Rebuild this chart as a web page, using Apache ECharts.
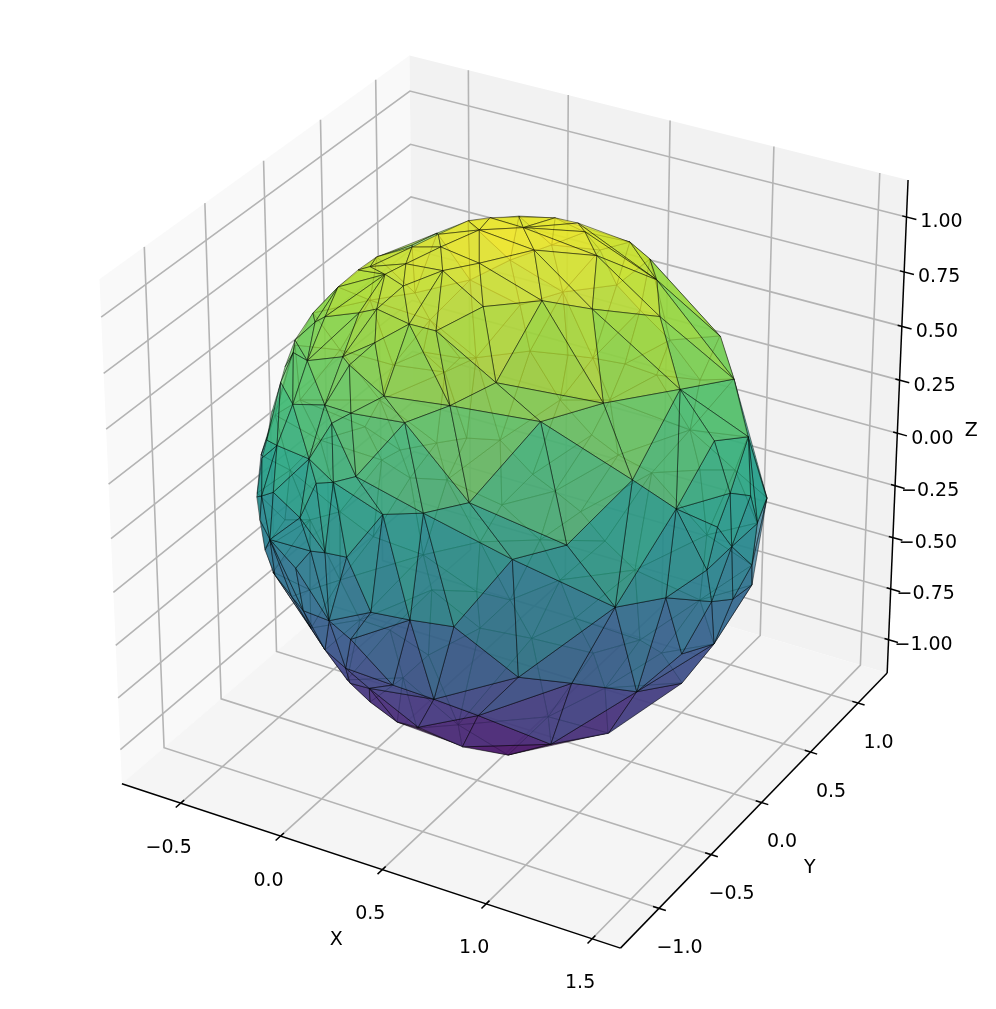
<!DOCTYPE html>
<html><head><meta charset="utf-8"><style>html,body{margin:0;padding:0;background:#fff}#c{width:996px;height:1009px}</style>
<script src="https://cdn.jsdelivr.net/npm/echarts@6/dist/echarts.min.js"></script></head><body><div id="c"></div>
<script>
// ---- axis limits and ticks ----
const xLim=[-0.799,1.632], yLim=[-1.36,1.314], zLim=[-1.166,1.166];
const xTicks=[-0.5,0,0.5,1,1.5], yTicks=[-1,-0.5,0,0.5,1], zTicks=[-1,-0.75,-0.5,-0.25,0,0.25,0.5,0.75,1];
const xTickLabels=['\u22120.5','0.0','0.5','1.0','1.5'], yTickLabels=['\u22121.0','\u22120.5','0.0','0.5','1.0'];
const zTickLabels=['\u22121.00','\u22120.75','\u22120.50','\u22120.25','0.00','0.25','0.50','0.75','1.00'];

// ---- near side of the surface: node names and x, y, z values ----
const meshNames=['T1','T2','B1','B2','B16','B3','B4','B5','B6','B7','B8','B9','B10','B11','B12','B13','B14','B15','A1','A2','A3','A4','A5','A6','A7','A8','A9','A10','A11','A12','A13','A14','A15','A16','A17','A18','A19','A20','A22','A23','A24','A25','A26','A27','A29','S2','C1','C2','C3','C4','C5','C6','C7','C8','C9','C10','C11','C12','C13','C14','C15','C16','C17','C18','C19','C20','C21','C22','C23','C24','H1','H2','H3','H4','H5','S10','S11','S12','S4','S5','S6','D1','D2','D4','D5','D6','D7','D8','D9','D10','D11','D12','D13','D14','D15','D16','E1','E2','E3','E4','E5','E6','E7','E8','E9','E10','E11','E12','E13','E14','E15','E16','S8','S9','F1','F2','F3','F4','F5','F6','F7','F9','F10','F11','F12','F14','G'];
const meshX=[0.099,0.162,0.233,0.371,0.462,0.531,0.675,0.764,0.384,0.531,0.725,0.918,0.710,0.884,1.063,1.264,1.108,1.296,0.235,0.066,0.150,-0.001,0.380,0.048,0.251,-0.024,-0.157,0.115,0.514,0.047,-0.038,0.243,0.376,0.120,-0.020,-0.231,0.033,0.703,-0.245,-0.303,-0.413,-0.370,-0.292,-0.232,-0.373,-0.177,0.259,-0.031,-0.236,0.122,0.389,0.558,0.034,-0.287,-0.053,0.218,0.106,0.010,-0.273,-0.385,-0.068,0.374,0.554,0.733,-0.307,0.092,0.212,0.006,-0.101,0.927,-0.341,-0.387,-0.397,-0.392,-0.411,-0.461,-0.422,-0.172,-0.320,-0.418,-0.067,0.914,1.089,1.425,1.406,1.261,1.398,1.487,1.501,1.466,1.513,1.493,1.519,1.108,1.490,1.515,-0.093,0.085,0.332,0.519,0.709,0.199,0.103,0.371,0.559,0.938,0.211,0.729,0.355,0.487,0.057,-0.011,0.095,0.215,1.275,1.408,1.493,1.507,1.413,1.444,1.279,1.115,0.905,1.078,1.346,1.479,0.668];
const meshY=[0.188,0.269,0.399,0.470,0.508,0.438,0.582,0.596,0.150,-0.033,0.167,0.349,-0.305,-0.187,0.087,-0.124,0.590,0.333,0.034,-0.019,-0.153,-0.130,-0.239,-0.274,-0.323,-0.327,-0.218,-0.420,-0.457,-0.529,-0.529,-0.604,-0.615,-0.679,-0.707,-0.641,-0.746,-0.702,-0.458,-0.444,-0.428,-0.519,-0.260,-0.190,-0.339,-0.123,-0.856,-0.847,-0.763,-0.896,-0.916,-0.834,-0.905,-0.817,-0.951,-1.032,-1.027,-1.006,-0.882,-0.791,-1.013,-1.087,-1.064,-0.996,-0.863,-1.085,-1.112,-1.056,-1.002,-0.984,-0.681,-0.732,-0.546,-0.677,-0.736,-0.705,-0.749,-0.921,-0.807,-0.720,-0.943,-0.709,-0.485,0.213,-0.081,-0.554,-0.419,-0.087,0.087,0.325,0.137,-0.216,-0.127,-0.846,-0.304,0.087,-0.960,-1.050,-1.125,-1.126,-1.092,-1.068,-0.947,-1.016,-0.996,-0.950,-0.936,-0.917,-0.766,-0.611,-0.831,-0.924,-0.726,-0.705,-0.728,-0.523,-0.257,-0.077,-0.370,-0.120,-0.522,-0.806,-0.587,-0.382,-0.224,0.170,-0.530];
const meshZ=[1.042,1.040,1.011,1.013,0.997,1.002,0.934,0.874,1.096,1.104,1.049,0.917,1.033,0.993,0.895,0.710,0.612,0.574,1.094,1.053,1.070,1.023,1.089,1.017,1.057,0.973,0.931,0.993,1.018,0.917,0.879,0.931,0.939,0.847,0.759,0.659,0.752,0.832,0.779,0.734,0.618,0.609,0.822,0.886,0.715,0.933,0.719,0.598,0.511,0.623,0.661,0.747,0.558,0.333,0.393,0.423,0.364,0.324,0.150,0.062,0.148,0.320,0.366,0.433,-0.087,0.065,0.091,0.035,-0.099,0.228,0.548,0.294,0.548,0.394,0.207,-0.001,-0.079,-0.289,-0.282,-0.232,-0.396,0.719,0.753,0.397,0.499,0.488,0.337,0.287,0.203,0.077,0.058,0.191,0.070,0.282,0.034,-0.113,-0.314,-0.267,-0.121,-0.101,-0.092,-0.312,-0.533,-0.499,-0.518,-0.323,-0.601,-0.581,-0.824,-0.953,-0.673,-0.491,-0.800,-0.870,-0.005,-0.017,-0.132,-0.199,-0.346,-0.407,-0.491,-0.366,-0.823,-0.817,-0.573,-0.254,-0.976];
const meshTriangles=`T1 T2 A1,T2 B1 B6,T2 B6 A1,A2 T1 A1,A2 A1 A3,A4 A2 A3,A4 A3 A6,A3 A7 A6,A3 A5 A7,A1 A5 A3,A1 B6 B7,A1 B7 A5,A5 B7 B10,A5 B10 A11,A7 A5 A11,A7 A11 A15,A11 A20 A15,A11 B10 A20,A15 A20 C6,A7 A15 A14,A14 A15 C6,A14 C6 C1,A14 C1 A16,A10 A7 A14,A6 A7 A10,A8 A6 A10,A8 A10 A12,A10 A14 A12,A12 A14 A16,A12 A16 A17,A13 A12 A17,A8 A12 A13,A16 C1 A19,A16 A19 A17,A19 C1 C4,A19 C4 C2,A17 A19 C2,A17 C2 A18,A13 A17 A18,A9 A6 A8,A4 A6 A9,A4 A9 S2,S2 A9 A27,A27 A9 A8,A26 A27 A8,A22 A26 A8,A22 A8 A13,A22 A13 A18,A23 A22 A18,A26 A22 A23,A29 A26 A23,A24 A23 A18,A24 A29 A23,A25 A24 A18,A25 A18 C3,A18 C2 C3,A25 C3 H1,A25 H1 H3,A24 A25 H3,H1 C3 C8,H1 C8 H2,H1 H2 H4,H2 C8 H5,H5 C8 C14,H5 C14 S10,C8 C13 C14,C8 C9 C13,C3 C9 C8,C3 C2 C9,C2 C7 C9,C2 C4 C7,C4 C1 C5,C4 C10 C7,C4 C5 C10,C7 C10 C11,C7 C11 C9,C9 C11 C12,C9 C12 C15,C9 C15 C13,C13 C15 C19,C13 C19 C14,C12 C20 C15,C12 C11 C20,C11 C21 C20,C11 C16 C21,C11 C10 C16,C10 C17 C16,C10 C5 C17,C5 C18 C17,C5 C6 C18,C1 C6 C5,C15 C20 C22,C15 C22 C19,C19 C22 C23,C14 C19 S11,C14 S11 S10,C19 S11 S5,C19 S5 S4,C19 S4 S12,C19 S12 E1,S12 S6 E1,S6 E16 E1,E16 E15 E7,E15 S8 E11,E7 E15 E11,S8 S9 E11,S9 E13 E11,C19 C23 E1,C23 E2 E1,C22 E2 C23,C22 C20 E2,C20 C21 E2,C21 E3 E2,E1 E16 E2,E2 E16 E7,E2 E7 E6,E2 E3 E6,E6 E7 E8,E7 E11 E8,E11 E9 E8,E11 E13 E9,E9 E13 E12,E13 E14 E12,E12 E14 F10,E14 G F10,E12 F10 F9,E10 F9 E12,E9 E10 E12,E5 E10 E9,C24 E10 E5,C17 C24 E5,E4 C17 E5,C16 C17 E4,E4 E5 E9,E8 E4 E9,E6 E4 E8,E6 E3 E4,E3 C16 E4,E3 C21 C16,C18 C24 C17,C18 D14 C24,C18 D1 D14,C6 D1 C18,A20 D1 C6,A20 D2 D1,A20 B10 D2,B10 B11 D2,B11 B13 D2,B11 B12 B13,D1 D6 D2,D1 D14 D6,D2 D6 B13,B13 D6 D7,B13 D7 D5,B13 D5 D4,B13 B15 D4,D5 D7 D8,D4 D5 D8,D4 D8 D9,D4 D9 D11,D4 D10 D11,D9 D11 D13,D8 D9 D13,D8 D12 D13,D7 D12 D8,D7 D15 D12,D12 D15 D13,D11 D16 D13,C24 D14 F1,C24 F1 E10,D14 D6 F1,D6 D7 F1,D7 F2 F1,D7 D15 F2,D15 F3 F2,D15 D13 F3,D13 F4 F3,D13 D16 F4,D16 F14 F4,F4 F14 F6,F3 F4 F6,F3 F6 F5,F2 F3 F5,F2 F5 F7,F5 F6 F7,F6 F12 F7,F7 F12 F11,F7 F11 F10,F9 F7 F10,F1 F7 F9,F1 F2 F7,F1 F9 E10,B1 B2 B6,B6 B2 B16,B6 B16 B3,B6 B3 B8,B6 B8 B7,B7 B8 B11,B7 B11 B10,B3 B9 B8,B16 B4 B9,B16 B9 B3,B4 B5 B9,B8 B9 B12,B8 B12 B11,B9 B14 B15,B5 B14 B9,B9 B15 B12,B12 B15 B13`.split(',').map(s=>s.split(' '));

// ---- far side of the surface, seen faintly through the near side ----
const backX=[-0.582,-0.646,-0.683,-0.619,-0.551,-0.487,-0.364,-0.281,-0.174,-0.014,0.233,0.371,0.453,0.674,0.764,1.074,1.071,1.148,1.366,1.284,1.322,1.398,1.247,1.174,0.971,0.732,0.668,0.485,0.266,0.217,0.096,-0.073,-0.235,-0.067,-0.431,-0.477,0.146,0.267,0.404,0.583,0.427,0.280,0.037,0.613,0.949,-0.460,-0.506,-0.570,-0.408,-0.285,-0.058,-0.348,-0.246,-0.446,-0.274,-0.096,-0.558,-0.055,0.052,-0.031,-0.052,-0.188,0.284,0.273,0.416,0.576,0.568,0.729,0.925,-0.394,-0.376,-0.290,-0.232,-0.412,-0.504,-0.343,0.191,0.156,0.431,0.411,0.257,0.143,-0.020,0.574,-0.040,-0.688,-0.658,-0.672,-0.598,-0.614,-0.446,-0.459,-0.317,-0.224,0.843,1.062,0.764,0.823,0.664,0.523,1.020,0.774,0.138,0.110,0.282,-0.539,-0.618,-0.508,-0.204,-0.023,0.429,-0.119,0.111,0.339,-0.172];
const backY=[-0.498,-0.348,-0.155,-0.076,-0.031,0.082,0.213,0.378,0.412,0.398,0.400,0.470,0.593,0.582,0.596,0.655,0.814,0.806,0.547,0.630,0.507,0.348,0.298,0.137,-0.172,-0.248,-0.530,-0.610,-0.616,-0.705,-0.727,-0.629,-0.535,-0.943,-0.635,-0.620,0.920,1.043,1.038,1.016,0.868,0.914,0.911,0.799,0.831,0.571,0.482,0.447,0.567,0.689,0.791,0.711,0.808,0.287,0.440,0.652,0.185,0.080,0.371,0.496,-0.163,0.360,-0.271,0.450,0.597,0.464,0.042,0.279,0.443,0.606,0.709,0.830,0.875,0.708,0.594,0.785,0.789,0.968,0.949,1.080,1.069,1.047,0.992,1.069,0.933,0.075,0.193,-0.055,-0.016,-0.210,-0.022,-0.270,-0.075,0.033,0.970,0.867,1.025,0.994,1.012,0.997,0.625,0.532,0.790,0.552,0.710,0.533,0.318,0.401,0.769,0.805,0.786,0.891,1.034,1.079,-0.921];
const backZ=[-0.107,-0.011,0.086,0.397,0.545,0.636,0.753,0.764,0.832,0.932,1.014,1.012,0.921,0.935,0.875,0.580,0.315,0.068,-0.046,-0.224,-0.358,-0.358,-0.661,-0.794,-0.950,-1.041,-0.976,-0.950,-0.928,-0.871,-0.801,-0.792,-0.740,-0.396,-0.378,-0.284,-0.516,-0.262,-0.320,-0.348,-0.659,-0.577,-0.460,-0.717,-0.465,-0.331,-0.354,-0.195,-0.451,-0.480,-0.584,-0.326,-0.316,-0.626,-0.735,-0.715,-0.490,-1.000,-0.971,-0.872,-0.997,-0.847,-1.074,-0.993,-0.920,-0.983,-1.098,-1.021,-0.868,0.423,0.258,0.050,0.048,0.097,0.058,-0.013,0.721,0.422,0.532,0.102,0.094,0.088,0.087,0.097,0.325,0.059,-0.175,-0.216,-0.452,-0.371,-0.699,-0.638,-0.832,-0.905,-0.243,-0.138,-0.096,0.170,0.309,0.419,-0.666,-0.891,-0.701,-0.898,-0.821,-0.094,0.213,0.442,0.467,0.591,0.758,-0.327,-0.131,-0.089,-0.289];

const viridis=['#440154','#482475','#414487','#355f8d','#2a788e','#21918c','#22a884','#44bf70','#7ad151','#bddf26','#fde725'];
const faceAlpha=0.73;
function colorAt(t){t=Math.max(0,Math.min(1,t))*(viridis.length-1);const i=Math.min(Math.floor(t),viridis.length-2),f=t-i;
 const h=s=>[1,3,5].map(k=>parseInt(s.substr(k,2),16));const a=h(viridis[i]),b=h(viridis[i+1]);
 return `rgba(${a.map((v,k)=>Math.round(v+(b[k]-v)*f)).join(',')},${faceAlpha})`;}

// 3D camera (azimuth -60, elevation 30, perspective, cubic box); the plane it projects on is the hidden cartesian grid
const AZ=-60*Math.PI/180,EL=30*Math.PI/180,DIST=10,BOX=1.1003;
const W=[Math.cos(EL)*Math.cos(AZ),Math.cos(EL)*Math.sin(AZ),Math.sin(EL)];
const U=[-W[1],W[0],0].map(v=>v/Math.hypot(W[0],W[1]));
const V=[W[1]*U[2]-W[2]*U[1],W[2]*U[0]-W[0]*U[2],W[0]*U[1]-W[1]*U[0]];
const EYE=W.map(v=>BOX/2+DIST*v);
const dot=(a,b)=>a[0]*b[0]+a[1]*b[1]+a[2]*b[2];
const toWorld=p=>[(p[0]-xLim[0])/(xLim[1]-xLim[0])*BOX,(p[1]-yLim[0])/(yLim[1]-yLim[0])*BOX,(p[2]-zLim[0])/(zLim[1]-zLim[0])*BOX];
function project(p){const w=toWorld(p),d=[w[0]-EYE[0],w[1]-EYE[1],w[2]-EYE[2]],zc=-dot(d,W);return [dot(d,U)/zc,dot(d,V)/zc,dot(d,W)];}
const viewX=[-0.09771,0.09273], viewY=[-0.10019,0.09273];

const fv={};meshNames.forEach((n,i)=>{fv[n]=[meshX[i],meshY[i],meshZ[i]];});
const bv=backX.map((x,i)=>[x,backY[i],backZ[i]]);
function delaunay(pts){const P=pts.concat([[-10,-10],[10,-10],[0,10]]),n=pts.length;let T=[[n,n+1,n+2]];
 const inC=(t,p)=>{const [a,b,c]=t.map(i=>P[i]);const ax=a[0]-p[0],ay=a[1]-p[1],bx=b[0]-p[0],by=b[1]-p[1],cx=c[0]-p[0],cy=c[1]-p[1];
  const det=(ax*ax+ay*ay)*(bx*cy-cx*by)-(bx*bx+by*by)*(ax*cy-cx*ay)+(cx*cx+cy*cy)*(ax*by-bx*ay);
  const o=(b[0]-a[0])*(c[1]-a[1])-(b[1]-a[1])*(c[0]-a[0]);return o>0?det>0:det<0;};
 pts.forEach((p,i)=>{const bad=[],good=[];T.forEach(t=>(inC(t,p)?bad:good).push(t));const e={};
  bad.forEach(t=>[[t[0],t[1]],[t[1],t[2]],[t[2],t[0]]].forEach(([a,b])=>{const k=Math.min(a,b)+'_'+Math.max(a,b);e[k]=e[k]?null:[a,b];}));
  T=good;Object.values(e).forEach(x=>{if(x)T.push([x[0],x[1],i]);});});
 return T.filter(t=>t.every(i=>i<n));}
const bTri=delaunay(bv.map(p=>project(p).slice(0,2)));
const mk=vs=>({vs,z:(vs[0][2]+vs[1][2]+vs[2][2])/3,depth:(project(vs[0])[2]+project(vs[1])[2]+project(vs[2])[2])/3});
const back=bTri.map(t=>mk(t.map(i=>bv[i]))).sort((a,b)=>a.depth-b.depth);
const front=meshTriangles.map(t=>mk(t.map(n=>fv[n]))).sort((a,b)=>a.depth-b.depth);
const tris=back.concat(front);
const zs=tris.map(t=>t.z),zmin=Math.min(...zs),zmax=Math.max(...zs);

const [x0,x1]=xLim,[y0,y1]=yLim,[z0,z1]=zLim;
const panes=[{c:'#f9f9f9',p:[[x0,y0,z0],[x0,y1,z0],[x0,y1,z1],[x0,y0,z1]]},{c:'#f2f2f2',p:[[x0,y1,z0],[x1,y1,z0],[x1,y1,z1],[x0,y1,z1]]},{c:'#f5f5f5',p:[[x0,y0,z0],[x1,y0,z0],[x1,y1,z0],[x0,y1,z0]]}];
const grid=[];
xTicks.forEach(v=>grid.push([[v,y0,z0],[v,y1,z0],[v,y1,z1]]));
yTicks.forEach(v=>grid.push([[x1,v,z0],[x0,v,z0],[x0,v,z1]]));
zTicks.forEach(v=>grid.push([[x0,y0,v],[x0,y1,v],[x1,y1,v]]));
const axisLines=[[[x0,y0,z0],[x1,y0,z0]],[[x1,y0,z0],[x1,y1,z0]],[[x1,y1,z0],[x1,y1,z1]]];
xTicks.forEach(v=>axisLines.push([[v,y0-0.042,z0],[v,y0+0.03,z0]]));
yTicks.forEach(v=>axisLines.push([[x1+0.032,v,z0],[x1-0.028,v,z0]]));
zTicks.forEach(v=>axisLines.push([[x1+0.046,y1,v],[x1-0.02,y1,v]]));
const texts=[];
xTicks.forEach((v,i)=>texts.push({p:[v,y0,z0],dx:-12,dy:44.5,t:xTickLabels[i]}));
yTicks.forEach((v,i)=>texts.push({p:[x1,v,z0],dx:20.5,dy:39.5,t:yTickLabels[i]}));
zTicks.forEach((v,i)=>texts.push({p:[x1,y1,v],dx:35,dy:5.5,t:zTickLabels[i]}));
texts.push({p:[(x0+x1)/2,y0,z0],dx:-29,dy:76.5,t:'X'},{p:[x1,(y0+y1)/2,z0],dx:50.5,dy:63,t:'Y'},{p:[x1,y1,(z0+z1)/2],dx:74,dy:-2,t:'Z'});

const pt=(api,p)=>{const q=project(p);return api.coord([q[0],q[1]]);};
function customSeries(items,z,fn){return {type:'custom',coordinateSystem:'cartesian2d',data:items.map((_,i)=>[i,i]),encode:{x:0,y:1},z,clip:false,silent:true,animation:false,progressive:0,renderItem:(params,api)=>fn(items[params.dataIndex],api)};}
const chart=echarts.init(document.getElementById('c'),null,{renderer:'canvas'});
chart.setOption({animation:false,backgroundColor:'#fff',
 grid:{left:0,right:0,top:0,bottom:0},
 xAxis:{type:'value',show:false,min:viewX[0],max:viewX[1]},
 yAxis:{type:'value',show:false,min:viewY[0],max:viewY[1]},
 series:[
  customSeries(panes,1,(d,api)=>({type:'polygon',shape:{points:d.p.map(p=>pt(api,p))},style:{fill:d.c,stroke:null}})),
  customSeries(grid,2,(d,api)=>({type:'polyline',shape:{points:d.map(p=>pt(api,p))},style:{stroke:'#b4b4b4',lineWidth:1.6,fill:null}})),
  customSeries(axisLines,3,(d,api)=>({type:'line',shape:(a=>({x1:a[0][0],y1:a[0][1],x2:a[1][0],y2:a[1][1]}))(d.map(p=>pt(api,p))),style:{stroke:'#000',lineWidth:1.5}})),
  customSeries(tris,4,(d,api)=>({type:'polygon',shape:{points:d.vs.map(p=>pt(api,p))},style:{fill:colorAt((d.z-zmin)/(zmax-zmin)),stroke:'rgba(0,0,0,0.75)',lineWidth:0.6}})),
  customSeries(texts,5,(d,api)=>{const c=pt(api,d.p);return {type:'text',style:{text:d.t,x:c[0]+d.dx,y:c[1]+d.dy,fill:'#000',font:'19px "DejaVu Sans"',align:'center',verticalAlign:'middle'}};})
 ]});
</script></body></html>
